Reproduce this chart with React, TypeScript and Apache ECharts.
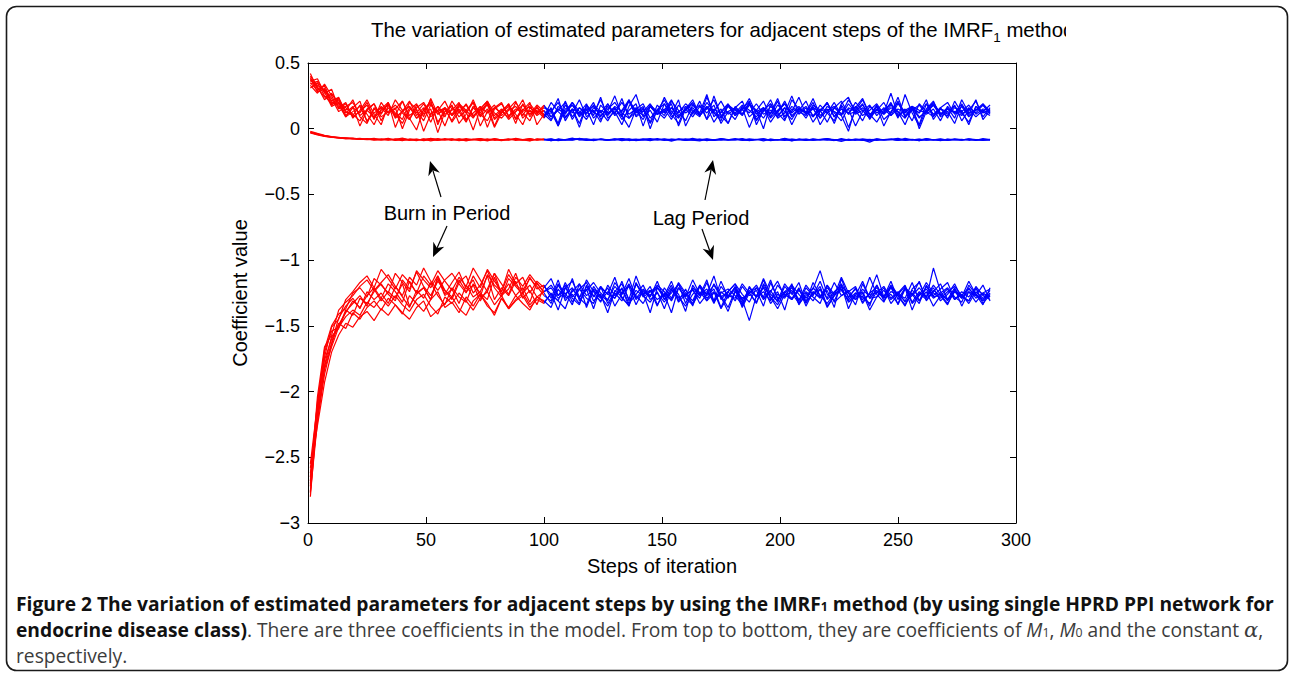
import React, { useEffect, useRef } from "react";
import * as echarts from "echarts";

// Values at every 3rd iteration (steps 1, 4, 7, ..., 289).
// Indices 0..33 belong to the burn-in period (steps 1..100), 33..96 to the lag period.
const SAMPLE_STEP = 3;
const BURN_IN_END = 100;

// Coefficient of M1 (top band), in hundredths
const m1Chain1 = [
  40, 33, 29, 21, 24, 12, 17, 2, 14, 19,
  6, 16, 10, 21, 8, -1, 15, 20, 5, 13,
  18, 4, 11, 22, 9, 15, 1, 12, 19, 7,
  14, 20, 3, 11, 12, 23, 6, 15, 1, 18,
  10, 24, 8, 13, 3, 17, 26, 9, 14, 5,
  19, 11, 22, 2, 13, 18, 7, 25, 10, 4,
  16, 21, 9, 14, 0, 19, 12, 6, 22, 15,
  8, 17, 3, 12, 20, 10, -2, 16, 23, 11,
  5, 14, 19, 8, 26, 12, 2, 15, 21, 9,
  13, 4, 18, 11, 22, 7, 14,
];
const m1Chain2 = [
  36, 38, 27, 30, 16, 20, 8, 14, 22, 11,
  3, 18, 12, 7, 20, 15, -2, 11, 17, 9,
  21, 13, 5, 16, 10, 19, 2, 14, 8, 20,
  12, 6, 17, 10, 15, 4, 21, 9, 16, 12,
  20, 7, 13, 25, 10, 1, 15, 19, 8, 14,
  22, 11, 4, 17, 13, 9, 24, 12, 6, 18,
  10, 15, 21, 3, 14, 19, 8, 12, 25, 11,
  16, 5, 13, 20, 9, 17, 1, 14, 22, 10,
  18, 7, 12, 24, 9, 15, 3, 19, 11, 16,
  8, 21, 12, 5, 17, 13, 10,
];
const m1Chain3 = [
  42, 30, 31, 18, 22, 10, 16, 21, 5, 15,
  11, 20, 1, 14, 17, 8, 12, 22, 3, 16,
  10, 18, 13, -1, 15, 21, 7, 12, 17, 4,
  19, 11, 14, 8, 16, 2, 18, 12, 22, 9,
  14, 5, 19, 11, 23, 8, 13, 17, 0, 15,
  10, 21, 14, 6, 18, 12, 26, 9, 15, 4,
  17, 11, 20, 7, 13, 22, 10, 16, 3, 14,
  21, 9, 15, 12, 6, 19, 24, 11, 14, 8,
  17, 2, 13, 20, 10, 16, 12, 22, 7, 15,
  11, 18, 6, 14, 21, 9, 16,
];
const m1Chain4 = [
  33, 27, 34, 25, 15, 19, 9, 13, 18, 7,
  20, 12, 16, 0, 14, 19, 9, 23, 11, 15,
  6, 17, 12, 20, 2, 13, 18, 10, 15, 21,
  8, 14, 11, 17, 13, 20, 9, 15, 4, 18,
  12, 22, 10, 16, 7, 14, 19, 2, 17, 11,
  24, 13, 8, 15, 20, 10, 17, 5, 13, 19,
  11, 16, 1, 14, 21, 9, 18, 13, 7, 16,
  12, 23, 10, 15, 4, 18, 11, 20, 14, 8,
  17, 12, 27, 10, 15, 6, 19, 13, 9, 16,
  20, 11, 14, 3, 17, 12, 15,
];
const m1Chain5 = [
  38, 32, 22, 27, 19, 14, 22, 9, 4, 16,
  12, 19, 8, 13, 21, 10, 16, 5, 17, 11,
  14, 20, 7, 12, 17, 1, 15, 19, 10, 13,
  22, 9, 16, 11, 6, 17, 13, 20, 10, 15,
  3, 18, 12, 16, 9, 21, 14, 7, 17, 11,
  13, 19, 2, 15, 22, 10, 16, 12, 8, 18,
  14, 11, 20, 6, 15, 12, 23, 9, 17, 13,
  10, 18, 14, 5, 16, 21, 11, 13, 19, 7,
  15, 12, 20, 9, 14, 17, 0, 13, 18, 11,
  16, 8, 22, 12, 14, 19, 13,
];
const m1Chain6 = [
  35, 29, 33, 20, 18, 9, 13, 17, 6, 12,
  16, 10, 22, 14, 7, 18, 11, 15, -3, 13,
  17, 9, 14, 20, 11, 6, 16, 12, 19, 8,
  15, 11, 18, 13, 9, 14, 20, 7, 16, 11,
  18, 13, 6, 15, 10, 22, 12, 16, 4, 14,
  19, 9, 13, 17, 11, 21, 7, 15, 12, 18,
  10, 14, 23, 11, 16, 5, 13, 19, 9, 15,
  12, 20, 8, 14, 17, 11, 15, 2, 13, 18,
  10, 16, 12, 21, 9, 14, 18, 11, 15, 6,
  17, 12, 19, 10, 15, 13, 18,
];
const m1Chain7 = [
  31, 35, 25, 19, 23, 13, 10, 18, 11, 3,
  15, 20, 9, 13, 17, 8, 14, 19, 11, 16,
  5, 13, 18, 10, 15, 21, 12, 8, 14, 17,
  10, 19, 12, 16, 13, 2, 15, 18, 9, 14,
  17, 10, 15, 20, 12, 8, 16, 13, 19, 11,
  14, 22, 10, 15, 9, 17, 12, 18, 4, 13,
  16, 11, 19, 14, 8, 17, 12, 21, 10, 15,
  13, 9, 18, 12, 16, 11, 22, 14, 6, 17,
  12, 15, 10, 19, 13, 16, 8, 14, 20, 11,
  15, 12, 17, 9, 14, 18, 12,
];
const m1Chain8 = [
  37, 31, 24, 26, 20, 9, 16, 12, 20, 8,
  14, 18, 11, 4, 16, 12, 19, 9, 14, 21,
  10, 15, 6, 17, 12, 20, 8, 14, 18, 11,
  3, 16, 12, 18, 9, 15, 11, 20, 13, 7,
  16, 12, 19, 10, 14, 22, 9, 13, 17, 11,
  15, 7, 18, 12, 16, 10, 20, 13, 9, 17,
  12, 18, 14, 9, 16, 11, 21, 7, 15, 13,
  17, 10, 14, 19, 12, 6, 16, 13, 18, 11,
  14, 20, 10, 15, 12, 17, 9, 13, 19, 12,
  10, 16, 13, 18, 11, 15, 14,
];
const m1Chain9 = [
  34, 36, 28, 17, 20, 16, 11, 6, 15, 19,
  9, 13, 18, 12, 7, 16, 20, 11, 14, 2,
  16, 12, 19, 9, 14, 18, 10, 15, 7, 13,
  18, 11, 16, 9, 20, 13, 8, 15, 12, 19,
  8, 14, 11, 17, 13, 21, 10, 15, 5, 18,
  12, 16, 9, 14, 19, 11, 15, 22, 10, 13,
  7, 17, 12, 19, 11, 14, 9, 16, 13, 24,
  11, 15, 8, 17, 13, 10, 19, 12, 16, 9,
  14, 11, 18, 13, 3, 16, 12, 19, 10, 15,
  13, 17, 11, 15, 9, 14, 12,
];
const m1Chain10 = [
  39, 28, 30, 23, 13, 17, 20, 10, 14, 9,
  17, 12, 15, 21, 10, 14, 6, 18, 13, 16,
  11, 19, 14, 8, 17, 12, 16, 20, 9, 15,
  13, 17, 10, 14, 7, 15, 12, 18, 11, 16,
  13, 9, 17, 12, 20, 11, 15, 10, 18, 13,
  8, 16, 12, 19, 14, 10, 17, 13, 21, 11,
  15, 10, 18, 13, 16, 8, 14, 19, 12, 17,
  11, 16, 13, 20, 9, 15, 12, 17, 10, 14,
  19, 11, 16, 13, 8, 17, 14, 12, 18, 10,
  15, 13, 10, 16, 12, 18, 11,
];

// Coefficient of M0 (middle band), in thousandths
const m0Chain1 = [
  -25, -40, -55, -62, -70, -73, -78, -74, -81, -85,
  -77, -88, -80, -72, -86, -79, -91, -83, -75, -84,
  -80, -89, -76, -85, -81, -93, -78, -84, -87, -74,
  -82, -90, -79, -85, -77, -88, -83, -72, -86, -80,
  -91, -78, -84, -87, -75, -83, -89, -80, -76, -86,
  -82, -94, -79, -85, -73, -87, -81, -89, -78, -84,
  -76, -88, -83, -80, -92, -79, -86, -74, -85, -81,
  -89, -77, -84, -82, -90, -75, -87, -80, -85, -102,
  -79, -86, -81, -74, -88, -83, -90, -77, -84, -80,
  -87, -78, -85, -82, -89, -76, -83,
];
const m0Chain2 = [
  -32, -47, -58, -66, -68, -77, -73, -82, -78, -86,
  -81, -74, -87, -79, -84, -90, -77, -83, -88, -76,
  -85, -79, -92, -82, -75, -87, -80, -84, -78, -89,
  -83, -76, -86, -81, -90, -78, -84, -87, -74, -82,
  -88, -80, -85, -77, -91, -83, -79, -86, -82, -75,
  -89, -81, -84, -78, -87, -92, -80, -85, -76, -83,
  -86, -79, -90, -82, -77, -88, -84, -81, -93, -78,
  -84, -87, -80, -75, -89, -82, -86, -79, -83, -90,
  -77, -85, -81, -88, -74, -84, -80, -87, -82, -91,
  -79, -84, -86, -78, -83, -88, -81,
];
const m0Chain3 = [
  -20, -36, -51, -60, -67, -71, -76, -80, -75, -83,
  -87, -79, -84, -91, -78, -82, -86, -73, -85, -81,
  -88, -77, -83, -80, -90, -84, -76, -87, -82, -79,
  -85, -92, -78, -83, -88, -80, -86, -75, -84, -89,
  -79, -83, -87, -81, -76, -90, -84, -78, -86, -82,
  -77, -85, -80, -88, -83, -79, -91, -84, -81, -87,
  -83, -76, -89, -82, -86, -80, -84, -78, -90, -85,
  -80, -87, -83, -79, -85, -96, -81, -88, -77, -84,
  -86, -82, -79, -89, -84, -80, -87, -76, -85, -83,
  -88, -81, -84, -79, -86, -82, -85,
];
const m0Chain4 = [
  -30, -44, -56, -64, -71, -69, -76, -81, -79, -74,
  -84, -80, -89, -77, -83, -86, -79, -92, -81, -85,
  -78, -84, -88, -81, -76, -86, -83, -90, -79, -82,
  -87, -80, -84, -78, -91, -83, -86, -81, -76, -88,
  -84, -79, -87, -82, -85, -77, -90, -83, -80, -86,
  -81, -88, -78, -84, -86, -80, -83, -89, -79, -85,
  -82, -87, -77, -84, -80, -91, -83, -86, -79, -84,
  -88, -81, -85, -78, -83, -87, -80, -84, -89, -82,
  -80, -85, -83, -79, -87, -82, -90, -81, -84, -78,
  -86, -83, -80, -88, -82, -85, -84,
];
const m0Chain5 = [
  -28, -43, -53, -61, -66, -74, -72, -79, -84, -77,
  -82, -86, -78, -83, -89, -80, -85, -76, -87, -83,
  -79, -91, -84, -81, -86, -77, -88, -82, -85, -80,
  -84, -78, -87, -82, -79, -90, -83, -86, -80, -77,
  -85, -82, -88, -79, -84, -81, -87, -83, -90, -80,
  -86, -79, -83, -88, -81, -85, -77, -84, -87, -82,
  -80, -85, -89, -83, -78, -86, -82, -88, -81, -84,
  -79, -86, -82, -87, -84, -80, -88, -83, -85, -81,
  -89, -83, -80, -86, -82, -85, -79, -87, -83, -88,
  -81, -84, -87, -80, -85, -83, -86,
];

// Constant alpha (bottom band), in hundredths
const alphaChain1 = [
  -280, -215, -176, -160, -149, -140, -131, -136, -127, -121,
  -129, -118, -124, -132, -116, -125, -121, -130, -112, -123,
  -128, -115, -124, -119, -131, -122, -110, -126, -118, -127,
  -121, -132, -117, -125, -133, -119, -128, -114, -131, -122,
  -137, -120, -126, -113, -129, -134, -118, -125, -140, -121,
  -127, -116, -131, -122, -135, -119, -126, -112, -130, -124,
  -118, -133, -121, -128, -115, -130, -124, -138, -119, -126,
  -132, -117, -127, -123, -136, -114, -129, -121, -133, -125,
  -111, -128, -120, -134, -122, -127, -116, -131, -124, -118,
  -130, -121, -135, -124, -127, -119, -131,
];
const alphaChain2 = [
  -265, -208, -170, -154, -151, -138, -142, -129, -133, -124,
  -118, -126, -131, -115, -122, -109, -120, -127, -116, -123,
  -130, -117, -112, -125, -119, -108, -121, -128, -114, -120,
  -126, -113, -122, -119, -129, -115, -131, -124, -118, -136,
  -122, -127, -131, -117, -125, -120, -134, -123, -128, -116,
  -130, -121, -126, -139, -119, -127, -115, -132, -124, -129,
  -120, -135, -123, -128, -114, -126, -131, -118, -125, -133,
  -121, -127, -116, -130, -124, -119, -137, -125, -128, -113,
  -126, -132, -120, -127, -135, -122, -117, -129, -106, -124,
  -131, -123, -128, -116, -126, -134, -121,
];
const alphaChain3 = [
  -258, -222, -187, -164, -148, -152, -140, -145, -136, -131,
  -138, -129, -134, -141, -127, -133, -139, -130, -124, -136,
  -132, -140, -128, -135, -126, -133, -142, -129, -137, -131,
  -127, -136, -130, -133, -125, -138, -121, -129, -134, -119,
  -131, -126, -140, -123, -128, -135, -118, -127, -132, -124,
  -137, -122, -129, -126, -133, -120, -131, -125, -128, -139,
  -124, -130, -146, -127, -121, -133, -126, -129, -118, -134,
  -125, -131, -122, -136, -127, -120, -132, -128, -124, -135,
  -119, -129, -126, -133, -121, -138, -125, -130, -123, -127,
  -134, -122, -128, -131, -120, -127, -130,
];
const alphaChain4 = [
  -272, -212, -168, -150, -141, -137, -125, -121, -128, -114,
  -119, -125, -110, -117, -124, -108, -115, -121, -112, -126,
  -117, -109, -122, -115, -128, -111, -119, -124, -107, -118,
  -113, -125, -116, -121, -114, -127, -119, -132, -122, -117,
  -128, -120, -133, -124, -118, -130, -112, -126, -123, -135,
  -121, -129, -117, -125, -131, -119, -127, -122, -136, -124,
  -118, -126, -132, -121, -128, -115, -130, -124, -119, -133,
  -127, -122, -108, -126, -131, -120, -125, -134, -118, -129,
  -123, -128, -116, -130, -121, -126, -133, -119, -127, -122,
  -117, -130, -124, -128, -121, -133, -126,
];
const alphaChain5 = [
  -262, -226, -193, -170, -157, -148, -151, -143, -139, -146,
  -137, -142, -134, -140, -145, -136, -131, -143, -138, -133,
  -128, -137, -142, -131, -126, -135, -140, -129, -136, -127,
  -133, -138, -128, -132, -126, -131, -137, -122, -129, -134,
  -120, -128, -135, -125, -131, -119, -127, -133, -123, -130,
  -126, -140, -121, -129, -134, -124, -131, -118, -127, -136,
  -123, -129, -125, -132, -120, -128, -137, -126, -130, -121,
  -135, -124, -129, -119, -132, -127, -123, -130, -125, -138,
  -128, -121, -133, -126, -129, -117, -131, -124, -135, -127,
  -122, -130, -126, -133, -124, -129, -127,
];
const alphaChain6 = [
  -268, -204, -166, -157, -138, -132, -127, -120, -115, -123,
  -117, -111, -120, -127, -113, -119, -106, -116, -123, -115,
  -110, -118, -125, -112, -121, -107, -116, -124, -111, -119,
  -123, -114, -120, -127, -131, -118, -126, -121, -129, -115,
  -124, -132, -119, -127, -122, -135, -117, -128, -124, -120,
  -130, -125, -118, -133, -121, -127, -124, -131, -116, -128,
  -122, -136, -125, -119, -129, -123, -132, -120, -126, -117,
  -133, -124, -128, -121, -127, -113, -125, -130, -122, -128,
  -119, -131, -124, -126, -120, -133, -127, -122, -129, -125,
  -121, -128, -132, -119, -126, -130, -123,
];
const alphaChain7 = [
  -276, -219, -183, -166, -151, -143, -138, -142, -132, -136,
  -129, -135, -127, -134, -139, -130, -126, -135, -141, -128,
  -133, -125, -131, -138, -129, -124, -134, -127, -137, -130,
  -125, -134, -128, -131, -136, -122, -129, -126, -133, -120,
  -127, -131, -124, -129, -121, -133, -126, -119, -130, -125,
  -132, -123, -128, -135, -126, -120, -129, -124, -137, -127,
  -121, -130, -125, -133, -118, -128, -134, -124, -129, -122,
  -131, -126, -120, -135, -127, -123, -130, -125, -128, -133,
  -124, -129, -121, -127, -134, -125, -131, -120, -128, -126,
  -133, -124, -129, -122, -127, -131, -125,
];
const alphaChain8 = [
  -255, -210, -174, -151, -145, -130, -124, -117, -112, -121,
  -107, -114, -122, -111, -117, -125, -112, -119, -108, -116,
  -123, -113, -120, -106, -115, -124, -110, -118, -126, -113,
  -120, -111, -118, -124, -119, -127, -121, -116, -128, -123,
  -117, -125, -130, -120, -126, -114, -129, -122, -127, -119,
  -124, -131, -121, -128, -115, -126, -122, -133, -120, -127,
  -129, -118, -125, -121, -130, -124, -116, -128, -123, -131,
  -119, -126, -122, -129, -117, -127, -124, -120, -132, -125,
  -121, -128, -119, -126, -131, -123, -127, -117, -125, -129,
  -124, -120, -127, -131, -122, -126, -128,
];
const alphaChain9 = [
  -270, -218, -180, -158, -152, -139, -133, -127, -135, -122,
  -131, -124, -129, -118, -135, -126, -121, -130, -114, -127,
  -122, -133, -119, -128, -124, -112, -130, -121, -127, -116,
  -129, -123, -134, -120, -126, -131, -117, -128, -122, -129,
  -133, -121, -126, -129, -116, -131, -123, -127, -120, -134,
  -125, -130, -118, -127, -122, -133, -126, -119, -128, -124,
  -131, -120, -127, -123, -135, -117, -129, -125, -121, -130,
  -124, -128, -133, -119, -126, -122, -131, -127, -116, -129,
  -128, -123, -130, -125, -119, -132, -124, -128, -121, -131,
  -126, -118, -129, -124, -132, -125, -122,
];
const alphaChain10 = [
  -277, -223, -181, -163, -144, -135, -129, -137, -124, -130,
  -125, -133, -120, -128, -136, -123, -129, -117, -127, -134,
  -121, -128, -132, -118, -125, -130, -113, -127, -122, -110,
  -125, -119, -128, -124, -121, -129, -125, -134, -118, -127,
  -123, -129, -121, -135, -126, -118, -130, -124, -127, -121,
  -128, -119, -132, -126, -123, -129, -117, -131, -125, -122,
  -127, -134, -120, -128, -124, -131, -119, -126, -130, -123,
  -129, -121, -127, -133, -125, -118, -128, -122, -130, -126,
  -125, -120, -129, -124, -132, -127, -121, -128, -119, -126,
  -130, -124, -127, -121, -129, -125, -128,
];

const m1Chains = [m1Chain1, m1Chain2, m1Chain3, m1Chain4, m1Chain5, m1Chain6, m1Chain7, m1Chain8, m1Chain9, m1Chain10];
const m0Chains = [m0Chain1, m0Chain2, m0Chain3, m0Chain4, m0Chain5];
const alphaChains = [alphaChain1, alphaChain2, alphaChain3, alphaChain4, alphaChain5, alphaChain6, alphaChain7, alphaChain8, alphaChain9, alphaChain10];

const xTicks = { min: 0, max: 300, interval: 50 };
const yTicks = { min: -3, max: 0.5, interval: 0.5 };

const TITLE_MAIN = "The variation of estimated parameters for adjacent steps of the IMRF";
const TITLE_SUB = "1";
const TITLE_END = " method";
const X_NAME = "Steps of iteration";
const Y_NAME = "Coefficient value";
const BURN_LABEL = "Burn in Period";
const LAG_LABEL = "Lag Period";

const BURN_COLOR = "#ff0000";
const LAG_COLOR = "#0000ff";

const FONT_AX = "'Liberation Sans', Arial, Helvetica, sans-serif";
const FONT_CAP = "'Open Sans', 'Noto Sans', sans-serif";

let measureCtx: CanvasRenderingContext2D | null = null;
function textWidth(text: string, size: number, family: string, weight = "normal", style = "normal") {
  if (!measureCtx) measureCtx = document.createElement("canvas").getContext("2d");
  if (!measureCtx) return text.length * size * 0.5;
  measureCtx.font = `${style} ${weight} ${size}px ${family}`;
  return measureCtx.measureText(text).width;
}

type Run = { text: string; size: number; family: string; weight?: string; style?: string; fill: string; dy?: number };

function runsWidth(runs: Run[]) {
  return runs.reduce((s, r) => s + textWidth(r.text, r.size, r.family, r.weight, r.style), 0);
}

function layoutRuns(runs: Run[], x0: number, yMid: number): any[] {
  const out: any[] = [];
  let x = x0;
  for (const r of runs) {
    out.push({
      type: "text",
      silent: true,
      z: 20,
      x,
      y: yMid + (r.dy || 0),
      style: {
        text: r.text,
        fontSize: r.size,
        fontFamily: r.family,
        fontWeight: r.weight || "normal",
        fontStyle: r.style || "normal",
        fill: r.fill,
        textAlign: "left",
        textVerticalAlign: "middle",
      },
    });
    x += textWidth(r.text, r.size, r.family, r.weight, r.style);
  }
  return out;
}

function arrow(tail: [number, number], tip: [number, number]): any[] {
  const dx = tip[0] - tail[0];
  const dy = tip[1] - tail[1];
  const len = Math.hypot(dx, dy);
  const ux = dx / len, uy = dy / len;
  const nx = -uy, ny = ux;
  const L = 14, W = 6;
  const bx = tip[0] - ux * L, by = tip[1] - uy * L;
  const notchX = tip[0] - ux * L * 0.7, notchY = tip[1] - uy * L * 0.7;
  return [
    {
      type: "line",
      silent: true,
      z: 20,
      shape: { x1: tail[0], y1: tail[1], x2: notchX, y2: notchY },
      style: { stroke: "#000", lineWidth: 1.2 },
    },
    {
      type: "polygon",
      silent: true,
      z: 20,
      shape: { points: [[tip[0], tip[1]], [bx + nx * W, by + ny * W], [notchX, notchY], [bx - nx * W, by - ny * W]] },
      style: { fill: "#000" },
    },
  ];
}

function buildSeries(): any[] {
  const burnIdx = (BURN_IN_END - 1) / SAMPLE_STEP;
  const series: any[] = [];
  const groups: [number[][], number][] = [
    [m1Chains, 100],
    [m0Chains, 1000],
    [alphaChains, 100],
  ];
  groups.forEach(([chains, scale]) => {
    chains.forEach((vals) => {
      const red: number[][] = [];
      const blue: number[][] = [];
      vals.forEach((v, i) => {
        const p = [1 + SAMPLE_STEP * i, v / scale];
        if (i <= burnIdx) red.push(p);
        if (i >= burnIdx) blue.push(p);
      });
      series.push({
        type: "line",
        data: red,
        symbol: "none",
        silent: true,
        lineStyle: { color: BURN_COLOR, width: 1.2 },
        itemStyle: { color: BURN_COLOR },
        z: 3,
      });
      series.push({
        type: "line",
        data: blue,
        symbol: "none",
        silent: true,
        lineStyle: { color: LAG_COLOR, width: 1.2 },
        itemStyle: { color: LAG_COLOR },
        z: 2,
      });
    });
  });
  return series;
}

function buildGraphics(): any[] {
  const els: any[] = [];
  // outer figure frame
  els.push({
    type: "rect",
    silent: true,
    z: 1,
    shape: { x: 6.5, y: 6.5, width: 1281, height: 664, r: 10 },
    style: { fill: "none", stroke: "#1a1a1a", lineWidth: 1.6 },
  });

  // chart title with subscript
  const tSize = 20.4;
  const titleRuns: Run[] = [
    { text: TITLE_MAIN, size: tSize, family: FONT_AX, fill: "#000" },
    { text: TITLE_SUB, size: 13.5, family: FONT_AX, fill: "#000", dy: 7 },
    { text: TITLE_END, size: tSize, family: FONT_AX, fill: "#000" },
  ];
  els.push(...layoutRuns(titleRuns, 371, 30));
  // the title is cut off at the right edge of the original figure image
  els.push({ type: "rect", silent: true, z: 25, shape: { x: 1066, y: 14, width: 60, height: 36 }, style: { fill: "#fff" } });

  // annotations
  els.push({
    type: "text", silent: true, z: 20, x: 447, y: 213,
    style: { text: BURN_LABEL, fontSize: 20, fontFamily: FONT_AX, fill: "#000", textAlign: "center", textVerticalAlign: "middle" },
  });
  els.push({
    type: "text", silent: true, z: 20, x: 701, y: 218,
    style: { text: LAG_LABEL, fontSize: 20, fontFamily: FONT_AX, fill: "#000", textAlign: "center", textVerticalAlign: "middle" },
  });
  els.push(...arrow([441, 197], [430, 161]));
  els.push(...arrow([447, 226], [433, 257]));
  els.push(...arrow([705, 200], [713, 160]));
  els.push(...arrow([702, 229], [713, 260]));

  // caption
  const base = 17;
  const bold = "bold";
  const dark = "#111";
  const grey = "#3c3c3c";
  const subScale = 0.64;
  const subDrop = 0.2;
  const line1 = (s: number): Run[] => [
    { text: "Figure 2 The variation of estimated parameters for adjacent steps by using the IMRF", size: s, family: FONT_CAP, weight: bold, fill: dark },
    { text: "1", size: s * subScale, family: FONT_CAP, weight: bold, fill: dark, dy: s * subDrop },
    { text: " method (by using single HPRD PPI network for", size: s, family: FONT_CAP, weight: bold, fill: dark },
  ];
  const w1 = runsWidth(line1(base));
  let cs = base * (1259 / w1);
  if (cs < 14) cs = 14;
  if (cs > 20) cs = 20;
  els.push(...layoutRuns(line1(cs), 16, 603));
  const line2: Run[] = [
    { text: "endocrine disease class)", size: cs, family: FONT_CAP, weight: bold, fill: dark },
    { text: ". There are three coefficients in the model. From top to bottom, they are coefficients of ", size: cs, family: FONT_CAP, fill: grey },
    { text: "M", size: cs, family: FONT_CAP, style: "italic", fill: grey },
    { text: "1", size: cs * subScale, family: FONT_CAP, fill: grey, dy: cs * subDrop },
    { text: ", ", size: cs, family: FONT_CAP, fill: grey },
    { text: "M", size: cs, family: FONT_CAP, style: "italic", fill: grey },
    { text: "0", size: cs * subScale, family: FONT_CAP, fill: grey, dy: cs * subDrop },
    { text: " and the constant ", size: cs, family: FONT_CAP, fill: grey },
    { text: "\u03b1", size: cs * 1.1, family: "'DejaVu Serif', serif", style: "italic", fill: grey },
    { text: ",", size: cs, family: FONT_CAP, fill: grey },
  ];
  els.push(...layoutRuns(line2, 16, 629));
  els.push(...layoutRuns([{ text: "respectively.", size: cs, family: FONT_CAP, fill: grey }], 16, 655));
  return els;
}

const minus = (v: number) => String(v).replace("-", "\u2212");

export default function App() {
  const ref = useRef<HTMLDivElement>(null);
  useEffect(() => {
    if (!ref.current) return;
    const chart = echarts.init(ref.current, undefined, { renderer: "svg" });
    const axisCommon = {
      axisLine: { show: true, onZero: false, lineStyle: { color: "#000", width: 1 } },
      axisTick: { show: true, inside: true, length: 6, lineStyle: { color: "#000", width: 1 } },
      splitLine: { show: false },
    };
    chart.setOption({
      animation: false,
      backgroundColor: "#fff",
      grid: { left: 308, top: 63, width: 708, height: 460, containLabel: false },
      xAxis: [
        {
          type: "value",
          position: "bottom",
          ...xTicks,
          ...axisCommon,
          axisLabel: { show: true, fontSize: 18, fontFamily: FONT_AX, color: "#000", margin: 8 },
          name: X_NAME,
          nameLocation: "middle",
          nameGap: 33,
          nameTextStyle: { fontSize: 20, fontFamily: FONT_AX, color: "#000" },
        },
        {
          type: "value",
          position: "top",
          ...xTicks,
          ...axisCommon,
          axisLabel: { show: false },
        },
      ],
      yAxis: [
        {
          type: "value",
          position: "left",
          ...yTicks,
          ...axisCommon,
          axisLabel: { show: true, fontSize: 18, fontFamily: FONT_AX, color: "#000", margin: 8, formatter: minus },
          name: Y_NAME,
          nameLocation: "middle",
          nameGap: 58,
          nameTextStyle: { fontSize: 20, fontFamily: FONT_AX, color: "#000" },
        },
        {
          type: "value",
          position: "right",
          ...yTicks,
          ...axisCommon,
          axisLabel: { show: false },
        },
      ],
      series: buildSeries(),
      graphic: { elements: buildGraphics() },
    });
    return () => chart.dispose();
  }, []);
  return (
    <div
      ref={ref}
      style={{ position: "absolute", left: 0, top: 0, width: 1289, height: 674, background: "#fff" }}
    />
  );
}
